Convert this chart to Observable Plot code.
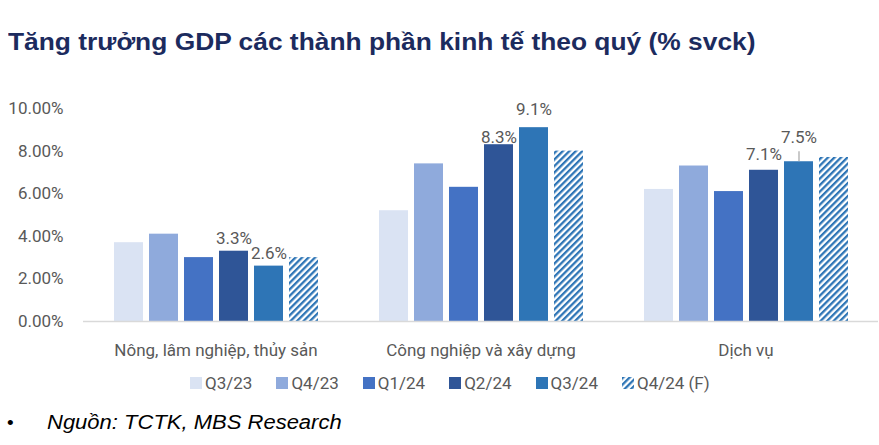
<!DOCTYPE html>
<html>
<head>
<meta charset="utf-8">
<script src="https://cdn.jsdelivr.net/npm/d3@7"></script>
<script src="https://cdn.jsdelivr.net/npm/@observablehq/plot@0.6"></script>
<style>
  body { margin: 0; background: #fff; width: 879px; height: 445px; position: relative; overflow: hidden; font-family: Roboto, sans-serif; }
  #title { position: absolute; left: 8px; top: 30px; font: bold 24px/24px "Liberation Sans", Arial, sans-serif; color: #1c2b5e; white-space: nowrap; transform: scaleX(1.098); transform-origin: 0 0; }
  #chart { position: absolute; left: 0; top: 70px; }
  #legend { position: absolute; left: 190px; top: 374px; display: flex; font: 17px/18px Roboto, sans-serif; color: #595959; }
  .item { display: flex; align-items: center; width: 86.4px; white-space: nowrap; }
  .sw { width: 12px; height: 12px; margin-right: 3px; flex: none; }
  #bullet { position: absolute; left: 7px; top: 413px; font: 19px/19px "Liberation Sans", Arial, sans-serif; color: #000; }
  #source { position: absolute; left: 47px; top: 412px; font: italic 20px/20px "Liberation Sans", Arial, sans-serif; color: #000; white-space: nowrap; transform: scaleX(1.1); transform-origin: 0 0; }
</style>
</head>
<body>
<svg width="0" height="0" style="position:absolute">
  <defs>
    <pattern id="hatch" patternUnits="userSpaceOnUse" width="4.6" height="4.6" patternTransform="rotate(45)">
      <rect width="4.6" height="4.6" fill="#ffffff"></rect>
      <rect width="2.3" height="4.6" fill="#2e75b6"></rect>
    </pattern>
  </defs>
</svg>
<div id="title"></div>
<div id="chart"></div>
<div id="legend"></div>
<div id="bullet">•</div>
<div id="source"></div>
<script>
// ---- Data ----
const title = "Tăng trưởng GDP các thành phần kinh tế theo quý (% svck)";
const source = "Nguồn: TCTK, MBS Research";
const groups = ["Nông, lâm nghiệp, thủy sản", "Công nghiệp và xây dựng", "Dịch vụ"];
const quarters = ["Q3/23", "Q4/23", "Q1/24", "Q2/24", "Q3/24", "Q4/24 (F)"];
const agriculture = [3.7, 4.1, 3.0, 3.3, 2.6, 3.0];
const industry = [5.2, 7.4, 6.3, 8.3, 9.1, 8.0];
const services = [6.2, 7.3, 6.1, 7.1, 7.5, 7.7];
const labelledQuarters = ["Q2/24", "Q3/24"];
const yTicks = [0, 2, 4, 6, 8, 10];

// ---- Styles ----
const colors = ["#dae3f3", "#8faadc", "#4472c4", "#2f5597", "#2e75b6", "url(#hatch)"];
const labelLift = {
  "0|Q2/24": 13, "0|Q3/24": 12.5,
  "1|Q2/24": 7, "1|Q3/24": 18,
  "2|Q2/24": 16, "2|Q3/24": 24
};
const leaderKeys = ["2|Q3/24"];

const series = [agriculture, industry, services];
const data = [];
groups.forEach((g, i) => quarters.forEach((q, j) => data.push({group: g, gi: i, quarter: q, value: series[i][j]})));
const labelled = data.filter(d => labelledQuarters.includes(d.quarter));

const textMarks = labelled.map(d => Plot.text([d], {
  fx: "group", x: "quarter", y: "value",
  text: v => v.value.toFixed(1) + "%",
  dy: -labelLift[d.gi + "|" + d.quarter],
  fill: "#595959", fontSize: 17
}));
const leaders = labelled.filter(d => leaderKeys.includes(d.gi + "|" + d.quarter));

const chart = Plot.plot({
  width: 879,
  height: 300,
  marginTop: 38,
  marginBottom: 49,
  marginLeft: 83,
  marginRight: 1,
  style: {fontFamily: "Roboto, sans-serif", fontSize: "17px", color: "#595959", background: "transparent"},
  fx: {domain: groups, padding: 0, axis: "bottom", tickSize: 0, tickPadding: 22, label: null},
  x: {domain: quarters, paddingInner: 0.18, paddingOuter: 0.835, axis: null},
  y: {domain: [0, 10], ticks: yTicks, tickFormat: d => d.toFixed(2) + "%", tickSize: 0, tickPadding: 20, label: null},
  color: {domain: quarters, range: colors},
  marks: [
    Plot.barY(data, {fx: "group", x: "quarter", y: "value", fill: "quarter"}),
    Plot.ruleY([0], {stroke: "#d9d9d9", strokeWidth: 1.5}),
    Plot.ruleX(leaders, {fx: "group", x: "quarter", y1: "value", y2: "value", insetTop: -10, stroke: "#a6a6a6", strokeWidth: 1.2}),
    ...textMarks
  ]
});
document.getElementById("chart").appendChild(chart);
document.getElementById("title").textContent = title;
document.getElementById("source").textContent = source;

const legend = document.getElementById("legend");
quarters.forEach((q, i) => {
  const item = document.createElement("div");
  item.className = "item";
  const sw = document.createElementNS("http://www.w3.org/2000/svg", "svg");
  sw.setAttribute("class", "sw");
  sw.setAttribute("viewBox", "0 0 12 12");
  const r = document.createElementNS("http://www.w3.org/2000/svg", "rect");
  r.setAttribute("width", 12); r.setAttribute("height", 12);
  r.setAttribute("fill", colors[i]);
  sw.appendChild(r);
  const t = document.createElement("span");
  t.textContent = q;
  item.appendChild(sw); item.appendChild(t);
  legend.appendChild(item);
});
</script>
</body>
</html>
